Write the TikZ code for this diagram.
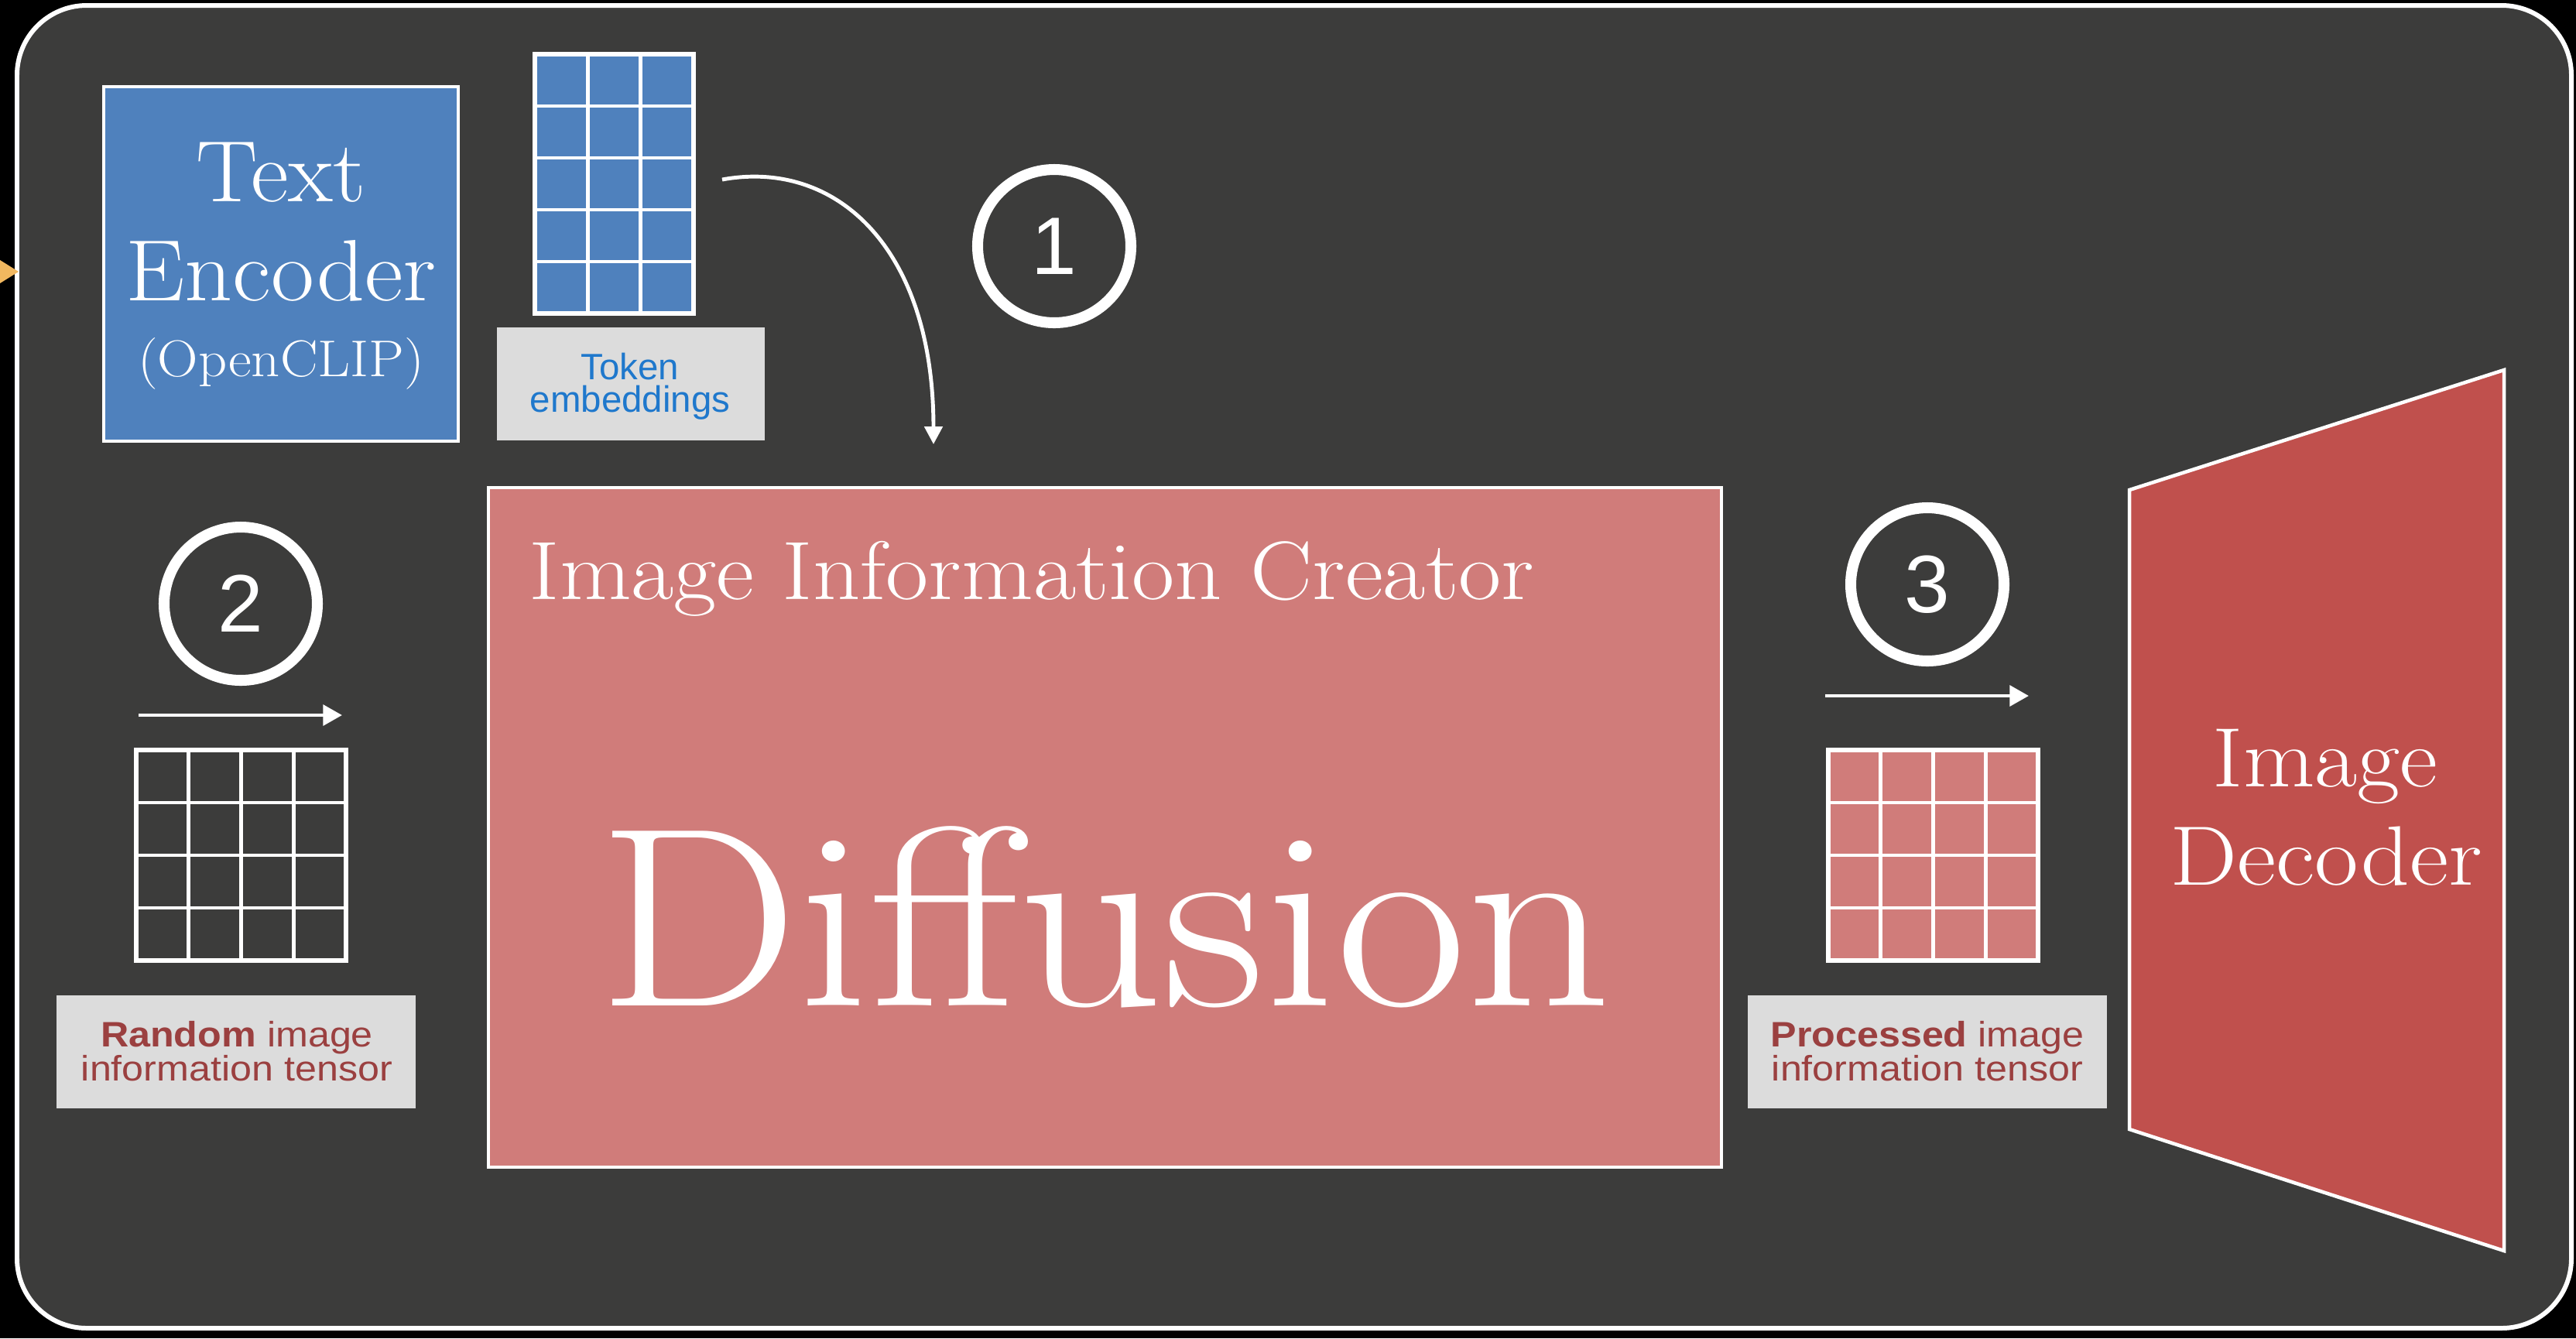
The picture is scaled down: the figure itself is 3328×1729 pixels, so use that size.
\documentclass[tikz,border=0pt]{standalone}
\usepackage{fontspec}
\newfontfamily\labfont{Liberation Sans}
\usetikzlibrary{arrows.meta}
\definecolor{bgdark}{HTML}{3C3C3B}
\definecolor{encblue}{HTML}{4F81BD}
\definecolor{diffpink}{HTML}{D07C7A}
\definecolor{decred}{HTML}{C0504D}
\definecolor{labgray}{HTML}{DCDCDC}
\definecolor{tokblue}{HTML}{1F78CC}
\definecolor{tensred}{HTML}{9B4040}
\definecolor{arrorange}{HTML}{F2B85F}
\tikzset{
  wbox/.style={draw=white, line width=1.3pt, inner sep=0pt, outer sep=0pt},
  gridbox/.style={draw=white, line width=1.6pt, inner sep=0pt, outer sep=0pt},
  gridl/.style={white, line width=1.4pt},
  labbox/.style={fill=labgray, inner sep=0pt, outer sep=0pt},
  stepcircle/.style={circle, draw=white, line width=4pt, minimum size=19.8mm, inner sep=0pt,
    text=white, font=\labfont\fontsize{30}{30}\selectfont},
  serifw/.style={text=white, inner sep=0pt, anchor=base},
  labtext/.style={inner sep=0pt, anchor=base, font=\labfont\fontsize{13}{13}\selectfont},
  flowarrow/.style={white, line width=1.4pt, -{Triangle[length=7pt,width=7.5pt]}},
}
\begin{document}
\begin{tikzpicture}[x=0.1mm,y=-0.1mm]
\fill[black] (0,0) rectangle (3328,1729);
\useasboundingbox (0,0) rectangle (3328,1729);
\draw[white, line width=1.7pt, fill=bgdark, rounded corners=9mm] (22,7) rectangle (3322,1716);
% orange arrow tip entering from the left
\fill[arrorange] (0,336) -- (24,351) -- (0,366) -- cycle;

% Text encoder
\node[wbox, fill=encblue, minimum width=45.8mm, minimum height=45.8mm] (enc) at (363,341) {};
\node[serifw, font=\fontsize{32}{32}\selectfont] (encT) at (363,260) {\scalebox{1.06}[1]{Text}};
\node[serifw, font=\fontsize{32}{32}\selectfont] (encE) at (363,388) {\scalebox{1.08}[1]{Encoder}};
\node[serifw, font=\fontsize{19}{19}\selectfont] (encO) at (363,486) {\scalebox{1.09}[1]{(OpenCLIP)}};

% token embeddings grid
\node[gridbox, fill=encblue, minimum width=20.5mm, minimum height=33.5mm] (tok) at (793.5,237.5) {};
\foreach \k in {1,2} { \draw[gridl] ({691+\k*68.33},70) -- ({691+\k*68.33},405); }
\foreach \k in {1,...,4} { \draw[gridl] (691,{70+\k*67}) -- (896,{70+\k*67}); }
\node[labbox, minimum width=34.6mm, minimum height=14.6mm] (toklab) at (815,496) {};
\node[labtext, text=tokblue, font=\labfont\fontsize{13.5}{13.5}\selectfont] (tokl1) at (814,490) {Token};
\node[labtext, text=tokblue, font=\labfont\fontsize{13.5}{13.5}\selectfont] (tokl2) at (814,532) {embeddings};

% curved arrow 1
\coordinate (c1s) at (933,232);
\coordinate (c1e) at (1206,574);
\draw[white, line width=1.4pt, -{Triangle[length=6.5pt,width=6.5pt]}] (c1s) .. controls (1080,205) and (1206,320) .. (c1e);
\node[stepcircle] (s1) at (1362,318) {1};

% step 2
\node[stepcircle] (s2) at (311,780) {2};
\coordinate (a2s) at (179,924);
\coordinate (a2e) at (442,924);
\draw[flowarrow] (a2s) -- (a2e);
\node[gridbox, minimum width=27.1mm, minimum height=27.2mm] (rg) at (311.5,1105) {};
\foreach \k in {1,2,3} { \draw[gridl] ({176+\k*67.75},969) -- ({176+\k*67.75},1241); }
\foreach \k in {1,2,3} { \draw[gridl] (176,{969+\k*68}) -- (447,{969+\k*68}); }
\node[labbox, minimum width=46.4mm, minimum height=14.6mm] (rlab) at (305,1359) {};
\node[labtext, text=tensred] (rl1) at (306,1352) {\scalebox{1.1}[1]{\textbf{Random} image}};
\node[labtext, text=tensred] (rl2) at (306,1396) {\scalebox{1.1}[1]{information tensor}};

% diffusion
\node[wbox, fill=diffpink, minimum width=159.3mm, minimum height=87.8mm] (diff) at (1427.5,1069) {};
\node[serifw, anchor=base west, font=\fontsize{30.5}{30.5}\selectfont] (iic) at (683,774) {\scalebox{1.12}[1]{Image Information Creator}};
\node[serifw, font=\fontsize{94}{94}\selectfont] (difft) at (1427,1299) {\scalebox{1.11}[1]{Diffusion}};

% step 3
\node[stepcircle] (s3) at (2490,755) {3};
\coordinate (a3s) at (2358,899);
\coordinate (a3e) at (2621,899);
\draw[flowarrow] (a3s) -- (a3e);
\node[gridbox, fill=diffpink, minimum width=27.1mm, minimum height=27.2mm] (pg) at (2497.5,1105) {};
\foreach \k in {1,2,3} { \draw[gridl] ({2362+\k*67.75},969) -- ({2362+\k*67.75},1241); }
\foreach \k in {1,2,3} { \draw[gridl] (2362,{969+\k*68}) -- (2633,{969+\k*68}); }
\node[labbox, minimum width=46.4mm, minimum height=14.6mm] (plab) at (2490,1359) {};
\node[labtext, text=tensred] (pl1) at (2490,1352) {\scalebox{1.1}[1]{\textbf{Processed} image}};
\node[labtext, text=tensred] (pl2) at (2490,1396) {\scalebox{1.1}[1]{information tensor}};

% image decoder
\draw[white, line width=1.3pt, fill=decred] (2751,633) -- (3235,478) -- (3235,1616) -- (2751,1459) -- cycle;
\node[serifw, font=\fontsize{31}{31}\selectfont] (decI) at (3004,1016) {\scalebox{1.1}[1]{Image}};
\node[serifw, font=\fontsize{31}{31}\selectfont] (decD) at (3005,1143) {\scalebox{1.13}[1]{Decoder}};
\end{tikzpicture}
\end{document}
